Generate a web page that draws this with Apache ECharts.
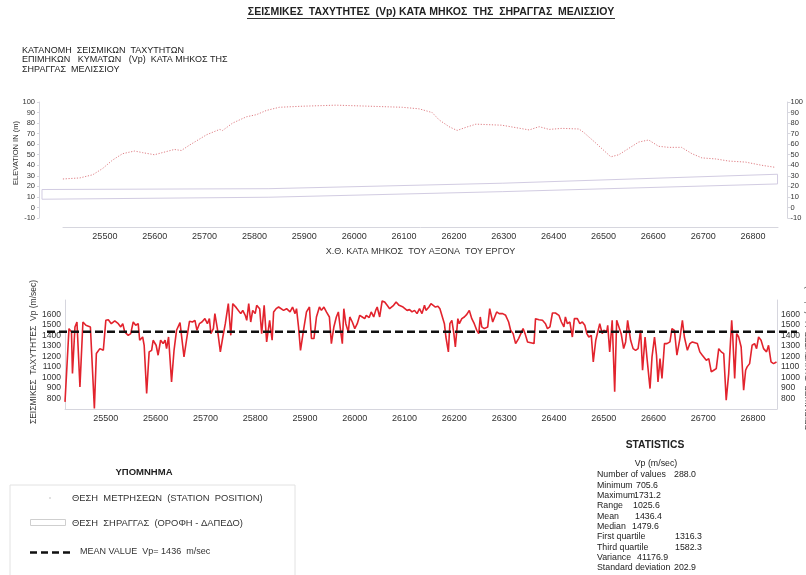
<!DOCTYPE html>
<html>
<head>
<meta charset="utf-8">
<script src="https://cdn.jsdelivr.net/npm/echarts@6/dist/echarts.min.js"></script>
<style>
  html, body { margin: 0; padding: 0; background: #ffffff; }
  #chart { width: 806px; height: 575px; }
</style>
</head>
<body>
<div id="chart"></div>
<script>
// ---- Ground profile along the tunnel axis (chainage, elevation m) ----
const profileStations = [25416, 25450, 25476, 25496, 25516, 25536, 25560, 25576, 25600, 25624,
  25640, 25654, 25670, 25705, 25731, 25737, 25757, 25785, 25805, 25825,
  25851, 25897, 25965, 26032, 26098, 26132, 26158, 26172, 26192, 26208,
  26226, 26246, 26298, 26353, 26373, 26393, 26419, 26453, 26463, 26487,
  26517, 26533, 26553, 26573, 26593, 26613, 26633, 26659, 26680, 26700,
  26728, 26754, 26788, 26820, 26848];
const profileElevation = [27, 28, 31, 37, 45, 51, 53.5, 52, 50, 53,
  55, 54, 59, 69, 74, 73, 80, 86, 88, 92,
  95, 96, 97, 96, 95, 93.5, 90, 83, 76.6, 73,
  76, 79, 78, 73.5, 76.6, 74, 75, 74.4, 71, 61,
  48, 50, 56, 62, 64, 58, 57, 57, 51, 47,
  46, 44, 43, 40, 38];

// ---- Tunnel roof and floor ----
const tunnelStations = [25374, 25830, 26300, 26852];
const tunnelRoof = [17, 17.8, 23, 31.5];
const tunnelFloor = [7.8, 9.7, 15, 22.3];

// ---- Seismic P-wave velocities (chainage, Vp m/sec) ----
const vpStations = [
  25418, 25426, 25431, 25433, 25438, 25442, 25448, 25454, 25460, 25464,
  25469, 25477, 25481, 25488, 25495, 25500, 25505, 25511, 25518, 25525,
  25530, 25534, 25538, 25545, 25550, 25555, 25560, 25565, 25568, 25574,
  25577, 25582, 25587, 25592, 25595, 25601, 25605, 25610, 25615, 25619,
  25622, 25626, 25632, 25637, 25642, 25649, 25652, 25657, 25662, 25668,
  25674, 25679, 25683, 25688, 25693, 25699, 25704, 25708, 25711, 25716,
  25719, 25724, 25730, 25735, 25740, 25746, 25751, 25755, 25762, 25766,
  25771, 25775, 25780, 25783, 25787, 25791, 25795, 25800, 25803, 25809,
  25813, 25818, 25823, 25829, 25834, 25837, 25842, 25847, 25850,
  25857, 25863, 25870, 25875, 25880, 25883, 25887, 25891, 25897, 25903,
  25909, 25913, 25918, 25923, 25929, 25933, 25938, 25943, 25949, 25953,
  25958, 25963, 25967, 25971, 25975, 25978, 25982, 25987, 25990, 25995,
  26000, 26005, 26010, 26015, 26020, 26023, 26029, 26033, 26038, 26042,
  26045, 26050, 26055, 26060, 26065, 26070, 26073, 26078, 26083, 26089,
  26093, 26097, 26100, 26105, 26110, 26115, 26120, 26125, 26130, 26135,
  26140, 26143, 26149, 26153, 26157, 26162, 26167, 26171, 26175, 26180,
  26183, 26188, 26191, 26195, 26199, 26202, 26207, 26210, 26215, 26220,
  26225, 26230, 26235, 26240, 26245, 26249, 26252, 26255, 26260, 26267,
  26271, 26277, 26280, 26285, 26290, 26297, 26303, 26309, 26313, 26318,
  26323, 26329, 26333, 26338, 26342, 26347, 26351,
  26360, 26363, 26370, 26377, 26383, 26387, 26392, 26397, 26403, 26410,
  26415, 26420, 26423, 26427, 26432, 26437, 26441, 26447, 26452, 26457,
  26462, 26466, 26470, 26475, 26479, 26484, 26488, 26492, 26497, 26500,
  26506, 26508, 26512, 26517, 26522, 26526, 26530, 26535, 26540, 26544,
  26548, 26554, 26559, 26564, 26569, 26574, 26578, 26583, 26587, 26593,
  26597, 26602, 26606, 26609, 26613, 26617, 26622, 26627, 26633, 26637,
  26642, 26647, 26653, 26658, 26662, 26668, 26673, 26678, 26682, 26688,
  26693, 26698, 26701, 26706, 26711, 26716, 26721, 26726, 26731, 26736,
  26741, 26746, 26751, 26757, 26759, 26763, 26767, 26771, 26776, 26781,
  26785, 26788, 26793, 26798, 26803, 26807, 26811, 26816, 26821, 26827,
  26831, 26836, 26841, 26847];
const vpValues = [
  768, 1467, 1435, 1038, 1483, 1530, 911, 1530, 1499, 1514,
  1483, 706, 1229, 1276, 1260, 1546, 1552, 1514, 1540, 1514,
  1483, 1514, 1435, 1403, 1419, 1530, 1499, 1514, 1356, 1387,
  1308, 848, 1245, 1260, 1356, 1308, 1213, 1356, 1324, 1356,
  1276, 1387, 959, 1260, 1451, 1524, 1514, 1197, 1356, 1537,
  1530, 1546, 1451, 1514, 1530, 1562, 1514, 1562, 1419, 1467,
  1610, 1467, 1245, 1387, 1514, 1705, 1403, 1705, 1667, 1657,
  1610, 1641, 1594, 1546, 1705, 1530, 1641, 1610, 1689, 1657,
  1419, 1689, 1340, 1546, 1356, 1626, 1657, 1673, 1667,
  1641, 1657, 1626, 1673, 1610, 1657, 1483, 1260, 1451, 1626,
  1673, 1372, 1372, 1578, 1673, 1641, 1673, 1626, 1578, 1324,
  1483, 1578, 1626, 1467, 1324, 1657, 1514, 1435, 1578, 1530,
  1467, 1514, 1594, 1578, 1562, 1594, 1572, 1626, 1578, 1641,
  1673, 1578, 1731, 1721, 1689, 1657, 1641, 1689, 1721, 1689,
  1705, 1673, 1689, 1641, 1648, 1626, 1641, 1610, 1657, 1610,
  1689, 1641, 1673, 1705, 1689, 1673, 1680, 1657, 1641, 1514,
  1387, 1245, 1514, 1546, 1419, 1292, 1562, 1514, 1562, 1578,
  1603, 1641, 1562, 1514, 1451, 1419, 1578, 1483, 1467, 1483,
  1657, 1530, 1530, 1626, 1610, 1610, 1594, 1530, 1451, 1419,
  1324, 1372, 1387, 1467, 1419, 1340, 1324,
  1324, 1562, 1552, 1546, 1514, 1467, 1483, 1616, 1616, 1594,
  1530, 1483, 1578, 1514, 1530, 1387, 1562, 1562, 1514, 1530,
  1499, 1419, 1387, 1403, 1149, 1356, 1362, 1514, 1419, 1451,
  1435, 1499, 1245, 1546, 864, 1546, 1546, 1419, 1276, 1340,
  1546, 1356, 1276, 1260, 1276, 1451, 1070, 1387, 1181, 895,
  1197, 1387, 1213, 959, 1181, 991, 1324, 1324, 1340, 1467,
  1451, 1213, 1372, 1546, 1387, 1260, 1324, 1340, 1324, 1324,
  1245, 1213, 1213, 1165, 1181, 1054, 1070, 1086, 1276, 1245,
  1229, 784, 1038, 1546, 1403, 991, 1419, 1387, 1292, 879,
  1070, 1102, 1133, 1308, 1324, 1276, 1387, 1356, 1276, 1245,
  1308, 1149, 1133, 1149];

const meanVp = 1436.4;

// ---- Axis tick labels ----
const chainageTicks = [25500, 25600, 25700, 25800, 25900, 26000, 26100, 26200, 26300, 26400, 26500, 26600, 26700, 26800];
const elevationTicks = [-10, 0, 10, 20, 30, 40, 50, 60, 70, 80, 90, 100];
const vpTicks = [800, 900, 1000, 1100, 1200, 1300, 1400, 1500, 1600];

// ---- Statistics block ----
const statLabels = ['Number of values', 'Minimum', 'Maximum', 'Range', 'Mean', 'Median',
  'First quartile', 'Third quartile', 'Variance', 'Standard deviation'];
const statValues = ['288.0', '705.6', '1731.2', '1025.6', '1436.4', '1479.6',
  '1316.3', '1582.3', '41176.9', '202.9'];

// ---- Texts ----
const mainTitle = 'ΣΕΙΣΜΙΚΕΣ  ΤΑΧΥΤΗΤΕΣ  (Vp) ΚΑΤΑ ΜΗΚΟΣ  ΤΗΣ  ΣΗΡΑΓΓΑΣ  ΜΕΛΙΣΣΙΟΥ';
const subTitleLines = ['ΚΑΤΑΝΟΜΗ  ΣΕΙΣΜΙΚΩΝ  ΤΑΧΥΤΗΤΩΝ', 'ΕΠΙΜΗΚΩΝ   ΚΥΜΑΤΩΝ   (Vp)  ΚΑΤΑ ΜΗΚΟΣ ΤΗΣ', 'ΣΗΡΑΓΓΑΣ  ΜΕΛΙΣΣΙΟΥ'];
const chainageName = 'Χ.Θ. ΚΑΤΑ ΜΗΚΟΣ  ΤΟΥ ΑΞΟΝΑ  ΤΟΥ ΕΡΓΟΥ';
const elevationName = 'ELEVATION IN (m)';
const vpName = 'ΣΕΙΣΜΙΚΕΣ  ΤΑΧΥΤΗΤΕΣ  Vp (m/sec)';
const legendTitle = 'ΥΠΟΜΝΗΜΑ';
const legendItems = ['ΘΕΣΗ  ΜΕΤΡΗΣΕΩΝ  (STATION  POSITION)', 'ΘΕΣΗ  ΣΗΡΑΓΓΑΣ  (ΟΡΟΦΗ - ΔΑΠΕΔΟ)', 'MEAN VALUE  Vp= 1436  m/sec'];

const FONT = '"Liberation Sans", Arial, sans-serif';
const zip = (xs, ys) => xs.map((x, i) => [x, ys[i]]);
const plain = v => String(v);

const tunnelOutline = zip(tunnelStations, tunnelRoof)
  .concat(zip(tunnelStations, tunnelFloor).reverse());
tunnelOutline.push([tunnelStations[0], tunnelRoof[0]]);

const chart = echarts.init(document.getElementById('chart'), null, { renderer: 'canvas' });

const statsX = 597, statsY0 = 475, statsStep = 10.33;
const statValueX = [674, 636, 634, 633, 635, 632, 675, 675, 637, 674];

const graphics = [
  { type: 'text', x: 431, y: 12.5, style: { text: mainTitle, font: 'bold 10.5px ' + FONT, fill: '#222', textAlign: 'center', textVerticalAlign: 'middle' } },
  { type: 'line', shape: { x1: 247, y1: 18.5, x2: 615, y2: 18.5 }, style: { stroke: '#333', lineWidth: 1 } },
  { type: 'text', x: 22, y: 46, style: { text: subTitleLines.join('\n'), font: '9px ' + FONT, lineHeight: 9.3, fill: '#222', textAlign: 'left', textVerticalAlign: 'top' } },
  { type: 'text', x: 15.5, y: 153, rotation: Math.PI / 2, style: { text: elevationName, font: '7.5px ' + FONT, fill: '#333', textAlign: 'center', textVerticalAlign: 'middle' } },
  { type: 'text', x: 33.5, y: 352, rotation: Math.PI / 2, style: { text: vpName, font: '8.5px ' + FONT, fill: '#333', textAlign: 'center', textVerticalAlign: 'middle' } },
  { type: 'text', x: 808.5, y: 358, rotation: Math.PI / 2, style: { text: vpName, font: '8.5px ' + FONT, fill: '#555', textAlign: 'center', textVerticalAlign: 'middle' } },
  // legend
  { type: 'text', x: 144, y: 472, style: { text: legendTitle, font: 'bold 9.5px ' + FONT, fill: '#222', textAlign: 'center', textVerticalAlign: 'middle' } },
  { type: 'rect', shape: { x: 10, y: 485, width: 285, height: 100 }, style: { fill: 'none', stroke: '#e2e2e2', lineWidth: 1 } },
  { type: 'circle', shape: { cx: 50, cy: 498, r: 0.8 }, style: { fill: '#bbb' } },
  { type: 'rect', shape: { x: 30.5, y: 519.5, width: 35, height: 6 }, style: { fill: 'none', stroke: '#cfcfcf', lineWidth: 1 } },
  { type: 'line', shape: { x1: 30, y1: 552.5, x2: 70, y2: 552.5 }, style: { stroke: '#111', lineWidth: 2.5, lineDash: [7, 4] } },
  { type: 'text', x: 72, y: 498, style: { text: legendItems[0], font: '9.4px ' + FONT, fill: '#333', textAlign: 'left', textVerticalAlign: 'middle' } },
  { type: 'text', x: 72, y: 523, style: { text: legendItems[1], font: '9.4px ' + FONT, fill: '#333', textAlign: 'left', textVerticalAlign: 'middle' } },
  { type: 'text', x: 80, y: 552, style: { text: legendItems[2], font: '9px ' + FONT, fill: '#333', textAlign: 'left', textVerticalAlign: 'middle' } },
  // statistics
  { type: 'text', x: 655, y: 445, style: { text: 'STATISTICS', font: 'bold 10.3px ' + FONT, fill: '#222', textAlign: 'center', textVerticalAlign: 'middle' } },
  { type: 'text', x: 656, y: 464, style: { text: 'Vp (m/sec)', font: '8.8px ' + FONT, fill: '#222', textAlign: 'center', textVerticalAlign: 'middle' } }
];
statLabels.forEach((lab, i) => {
  const y = statsY0 + i * statsStep;
  graphics.push({ type: 'text', x: statsX, y: y, style: { text: lab, font: '8.8px ' + FONT, fill: '#222', textAlign: 'left', textVerticalAlign: 'middle' } });
  graphics.push({ type: 'text', x: statValueX[i], y: y, style: { text: statValues[i], font: '8.8px ' + FONT, fill: '#222', textAlign: 'left', textVerticalAlign: 'middle' } });
});

const axisLineLight = { show: true, lineStyle: { color: '#d6d6de', width: 1 } };

const option = {
  backgroundColor: '#ffffff',
  animation: false,
  textStyle: { fontFamily: FONT },
  grid: [
    { left: 39, right: 17, top: 102, height: 116 },              // elevation plot
    { left: 63, right: 28, top: 102, bottom: 575 - 227 },         // elevation chainage axis
    { left: 65, right: 29, top: 300, height: 109 },              // Vp plot
    { left: 47, right: 9, top: 300, height: 109 }                 // mean line span
  ],
  xAxis: [
    { gridIndex: 0, type: 'value', min: 25368, max: 26872, show: false },
    { gridIndex: 1, type: 'value', min: 25416, max: 26850,
      axisLine: axisLineLight, axisTick: { show: false }, splitLine: { show: false },
      axisLabel: { customValues: chainageTicks, formatter: plain, fontSize: 9, color: '#333', margin: 5 },
      name: chainageName, nameLocation: 'middle', nameGap: 20,
      nameTextStyle: { fontSize: 9, color: '#333' } },
    { gridIndex: 2, type: 'value', min: 25418, max: 26848,
      axisLine: axisLineLight, axisTick: { show: false }, splitLine: { show: false },
      axisLabel: { customValues: chainageTicks, formatter: plain, fontSize: 9, color: '#333', margin: 5 } },
    { gridIndex: 3, type: 'value', min: 0, max: 1, show: false }
  ],
  yAxis: [
    { gridIndex: 0, type: 'value', min: -10, max: 100, position: 'left',
      axisLine: axisLineLight, axisTick: { show: true, length: 2, lineStyle: { color: '#d6d6de' }, customValues: elevationTicks },
      splitLine: { show: false },
      axisLabel: { customValues: elevationTicks, formatter: plain, fontSize: 7.5, color: '#333', margin: 4 } },
    { gridIndex: 0, type: 'value', min: -10, max: 100, position: 'right',
      axisLine: axisLineLight, axisTick: { show: true, length: 3, lineStyle: { color: '#d6d6de' }, customValues: elevationTicks },
      splitLine: { show: false },
      axisLabel: { customValues: elevationTicks, formatter: plain, fontSize: 7.5, color: '#333', margin: 3 } },
    { gridIndex: 1, type: 'value', show: false, min: 0, max: 1 },
    { gridIndex: 2, type: 'value', min: 700, max: 1740, position: 'left',
      axisLine: axisLineLight, axisTick: { show: false }, splitLine: { show: false },
      axisLabel: { customValues: vpTicks, formatter: plain, fontSize: 8.5, color: '#333', margin: 4 } },
    { gridIndex: 2, type: 'value', min: 700, max: 1740, position: 'right',
      axisLine: axisLineLight, axisTick: { show: false }, splitLine: { show: false },
      axisLabel: { customValues: vpTicks, formatter: plain, fontSize: 8.5, color: '#333', margin: 4 } },
    { gridIndex: 3, type: 'value', min: 700, max: 1740, show: false }
  ],
  series: [
    { name: 'Tunnel', type: 'line', xAxisIndex: 0, yAxisIndex: 0, data: tunnelOutline,
      showSymbol: false, silent: true, lineStyle: { color: '#d2cce2', width: 1 } },
    { name: 'Ground', type: 'line', xAxisIndex: 0, yAxisIndex: 0, data: zip(profileStations, profileElevation),
      showSymbol: false, silent: true, lineStyle: { color: '#e07f86', width: 1, type: [1.2, 1.6] } },
    { name: 'Vp', type: 'line', xAxisIndex: 2, yAxisIndex: 3, data: zip(vpStations, vpValues),
      showSymbol: false, lineStyle: { color: '#e2232d', width: 1.6 } },
    { name: 'Mean', type: 'line', xAxisIndex: 3, yAxisIndex: 5, data: [[0, meanVp], [1, meanVp]],
      showSymbol: false, z: 5, lineStyle: { color: '#111', width: 2.5, type: [8, 4] } }
  ],
  graphic: graphics
};

chart.setOption(option);
</script>
</body>
</html>
